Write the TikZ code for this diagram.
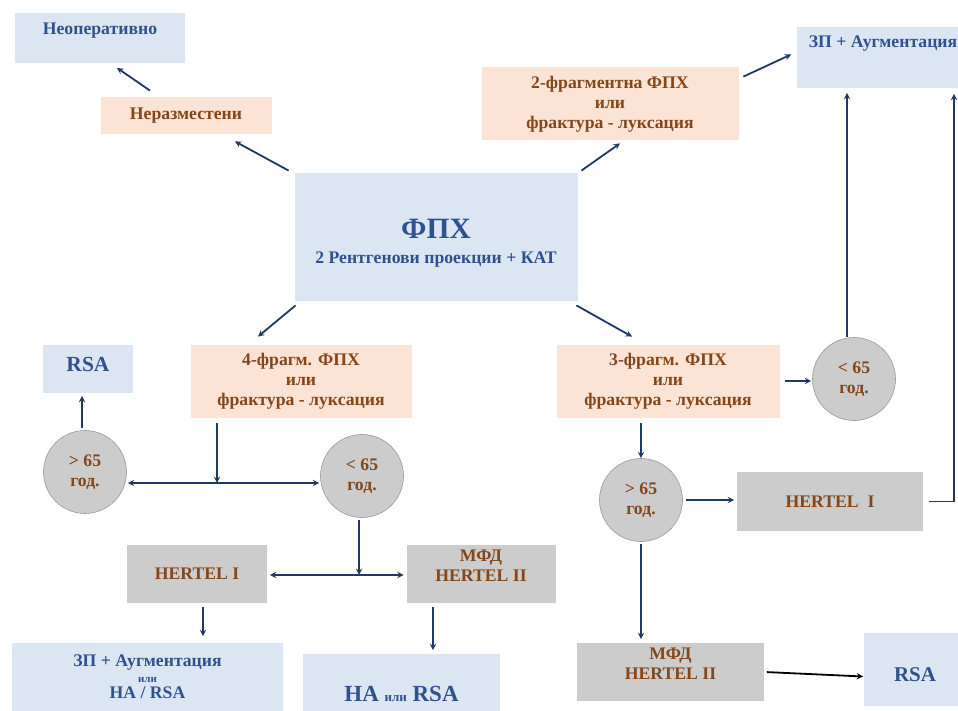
\documentclass[tikz,border=0pt]{standalone}
\usepackage{fontspec}
\setmainfont{Liberation Serif}
\usetikzlibrary{arrows.meta,positioning}
\definecolor{boxblue}{RGB}{220,230,242}
\definecolor{boxpeach}{RGB}{251,228,213}
\definecolor{boxgrey}{RGB}{204,204,204}
\definecolor{txtblue}{RGB}{47,82,143}
\definecolor{txtbrown}{RGB}{133,70,25}
\definecolor{navy}{RGB}{31,56,100}

\begin{document}
\begin{tikzpicture}[x=1pt,y=-1pt,->,>=stealth,line width=1.8pt,navy,
  outbox/.style={rectangle,fill=boxblue,text=txtblue,align=center,inner sep=0pt,font=\bfseries\fontsize{17.7}{20}\selectfont},
  fragbox/.style={rectangle,fill=boxpeach,text=txtbrown,align=center,inner sep=0pt,font=\bfseries\fontsize{17.7}{20}\selectfont},
  hertbox/.style={rectangle,fill=boxgrey,text=txtbrown,align=center,inner sep=0pt,minimum height=58pt,font=\bfseries\fontsize{17.7}{20}\selectfont},
  agenode/.style={circle,fill=boxgrey,draw=gray!80,line width=0.6pt,minimum size=83pt,inner sep=0pt,align=center,text=txtbrown,font=\bfseries\fontsize{17.7}{20}\selectfont}]
\useasboundingbox (0,0) rectangle (958,711);
\clip (0,0) rectangle (958,711);
% top row
\node[outbox,minimum width=170pt,text height=22pt,text depth=28pt] (neop) at (100,38) {Неоперативно};
\node[fragbox,minimum width=171pt,minimum height=37pt] (neraz) at (186,116) {Неразместени};
\node[outbox,minimum width=283pt,minimum height=127pt,text height=57pt] (fpx) at (436,237) {{\fontsize{29.5}{30}\selectfont ФПХ}\\[5pt]2 Рентгенови проекции + КАТ};
\node[fragbox,minimum width=257pt,minimum height=73pt] (two) at (610,104) {2-фрагментна ФПХ\\или\\фрактура - луксация};
\node[outbox,minimum width=172pt,text height=21pt,text depth=40pt] (zpa) at (883,57.5) {ЗП + Аугментация};
% left branch
\node[fragbox,minimum width=221pt,minimum height=73pt] (four) at (301,381) {4-фрагм. ФПХ\\или\\фрактура - луксация};
\node[outbox,minimum width=90pt,text height=26pt,text depth=22pt,font=\bfseries\fontsize{21.5}{22}\selectfont] (rsa1) at (88,369) {RSA};
\node[agenode] (old1) at (85,472) {> 65\\год.};
\node[agenode] (young1) at (362,476) {< 65\\год.};
\node[hertbox,minimum width=140pt] (hert1) at (197,574) {HERTEL I};
\node[hertbox,minimum width=149pt,text depth=17pt] (mfd1) at (481,574) {МФД\\HERTEL II};
\node[outbox,minimum width=271pt,minimum height=68pt] (zpna) at (147.5,677) {ЗП + Аугментация\\[-4pt]{\fontsize{11}{12}\selectfont или}\\[-4pt]НА / RSA};
\node[outbox,minimum width=197pt,minimum height=80pt,font=\bfseries\fontsize{23}{24}\selectfont] (nar) at (401.5,694) {НА {\fontsize{13}{14}\selectfont или} RSA};
% right branch
\node[fragbox,minimum width=223pt,minimum height=73pt] (three) at (668,381) {3-фрагм. ФПХ\\или\\фрактура - луксация};
\node[agenode] (young2) at (854,379) {< 65\\год.};
\node[agenode] (old2) at (641,500) {> 65\\год.};
\node[hertbox,minimum width=186pt,minimum height=59pt] (hert2) at (830,501.5) {HERTEL\ \ I};
\node[hertbox,minimum width=187pt,text depth=17pt] (mfd2) at (670.5,672) {МФД\\HERTEL II};
\node[outbox,minimum width=102pt,text height=48pt,text depth=25pt,font=\bfseries\fontsize{21}{22}\selectfont] (rsa2) at (915,669.5) {RSA};
\coordinate (j1) at (217,483);
\coordinate (j2) at (359,575);
% connectors
\draw ([xshift=-36pt,yshift=6pt]neraz.north) -- ([xshift=17pt,yshift=-4pt]neop.south);
\draw ([xshift=-5pt,yshift=2pt]fpx.north west) -- ([xshift=49pt,yshift=-6pt]neraz.south);
\draw ([xshift=3pt,yshift=2pt]fpx.north east) -- ([xshift=10pt,yshift=-2pt]two.south);
\draw ([xshift=4pt,yshift=-10pt]two.north east) -- ([xshift=-5pt,yshift=3pt]zpa.west);
\draw ([xshift=2pt,yshift=-4pt]fpx.south west) -- ([xshift=-43pt,yshift=7pt]four.north);
\draw ([xshift=-2pt,yshift=-4pt]fpx.south east) -- ([xshift=-36pt,yshift=7pt]three.north);
\draw[shorten <=5pt] ([xshift=-84pt]four.south) -- (j1);
\draw[<->,shorten <=1pt,shorten >=1pt] (old1.east |- j1) -- (young1.west |- j1);
\draw[shorten <=2pt,shorten >=2pt] ([xshift=-3pt]old1.north) -- ([xshift=-3pt]old1.north |- rsa1.south);
\draw[shorten <=2pt] ([xshift=-3pt]young1.south) -- (j2);
\draw[<->,shorten <=2pt,shorten >=2pt] (hert1.east |- j2) -- (mfd1.west |- j2);
\draw[shorten <=3pt,shorten >=6pt] ([xshift=6pt]hert1.south) -- ([xshift=6pt]hert1.south |- zpna.north);
\draw[shorten <=3pt,shorten >=3pt] ([xshift=-48pt]mfd1.south) -- ([xshift=-48pt]mfd1.south |- nar.north);
\draw[shorten <=5pt,shorten >=1pt] (three.east) -- (three.east -| young2.west);
\draw[shorten >=4pt] ([xshift=-7pt]young2.north) -- ([xshift=-7pt]young2.north |- zpa.south);
\draw[shorten <=5pt] (three.south -| old2.north) -- (old2.north);
\draw[shorten <=3pt,shorten >=2pt] (old2.east) -- (old2.east -| hert2.west);
\draw[shorten <=5pt,shorten >=5pt] (hert2.east) -| ([xshift=71pt]zpa.south);
\draw[shorten <=2pt,shorten >=3pt] (old2.south) -- (old2.south |- mfd2.north);
\draw[black,shorten <=2pt] (mfd2.east) -- ([yshift=-7pt]rsa2.west);
\end{tikzpicture}
\end{document}
